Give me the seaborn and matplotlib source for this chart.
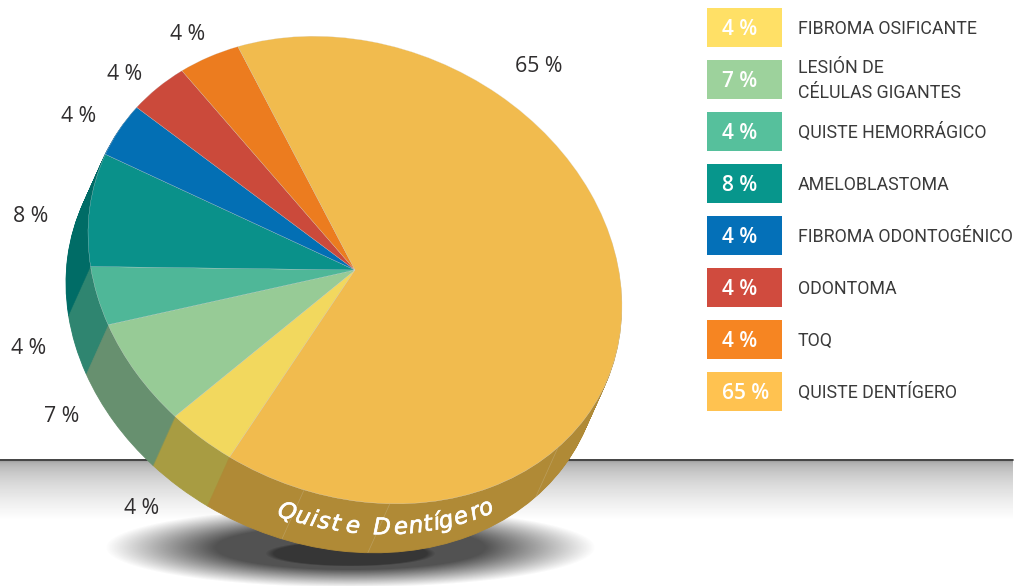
import numpy as np
import matplotlib
matplotlib.use('Agg')
import matplotlib.pyplot as plt
import matplotlib.patheffects as pe
from matplotlib.transforms import Affine2D
import seaborn as sns

# Data
labels = ['FIBROMA OSIFICANTE', 'LESIÓN DE\nCÉLULAS GIGANTES', 'QUISTE HEMORRÁGICO', 'AMELOBLASTOMA',
          'FIBROMA ODONTOGÉNICO', 'ODONTOMA', 'TOQ', 'QUISTE DENTÍGERO']
values = [4, 7, 4, 8, 4, 4, 4, 65]
top_colors = ['#F2D85E', '#97CB96', '#4FB798', '#0A918A', '#036FB4', '#CB4A3B', '#EC7C1F', '#F1BB4E']
wall_colors = ['#A89C42', '#67906F', '#2F8570', '#006C66', '#0A5A90', '#A03A30', '#B86A20', '#B08A36']
legend_colors = ['#FFE066', '#9DD29C', '#56C09C', '#07968C', '#0470B8', '#D04B3E', '#F68522', '#FFC250']
pct_pos = [(142, 509), (62, 417), (29, 349), (31, 216), (79, 116), (125, 74), (188, 34), (539, 67)]
curved_text = 'QuisteDentígero'
curved_x = [287, 303, 314, 324, 336, 353, 382, 401, 416, 428, 437, 446, 461, 475, 486]
seam_angles = [259, 277.5, 319.5]

sns.set_theme(style='white')
plt.rcParams['font.family'] = ['Open Sans', 'DejaVu Sans']

fig = plt.figure(figsize=(10.28, 5.86), dpi=100)
ax = fig.add_axes([0, 0, 1, 1])

# Floor gradient and shadow
fade = np.clip((np.linspace(0, 1, 60)) ** 0.55, 0, 1)
floor = (0.64 + 0.36 * fade).reshape(-1, 1)
ax.imshow(floor, cmap='gray', vmin=0, vmax=1, extent=(0, 1013, 521, 461), aspect='auto', zorder=0)
ax.plot([0, 1013], [460, 460], color='#222222', lw=1.2, zorder=1)

xx, yy = np.meshgrid(np.arange(100, 600), np.arange(515, 586))
r = np.sqrt(((xx - 350) / 245) ** 2 + ((yy - 547) / 40) ** 2)
shadow = np.zeros(xx.shape + (4,))
shadow[..., :3] = 0.2
shadow[..., 3] = np.clip((1 - r) / 0.45, 0, 1) * 0.85
ax.imshow(shadow, extent=(100, 600, 586, 515), aspect='auto', zorder=1, interpolation='bilinear')
r2 = np.sqrt(((xx - 350) / 85) ** 2 + ((yy - 553) / 13) ** 2)
core = np.zeros(xx.shape + (4,))
core[..., :3] = 0.2
core[..., 3] = np.clip((1 - r2) / 0.1, 0, 1) * 0.9
ax.imshow(core, extent=(100, 600, 586, 515), aspect='auto', zorder=1, interpolation='bilinear')

# Pie: unit circle skewed to the tilted ellipse, wall is the same pie stacked downwards
cx, cy = 355, 270
sx, skew, sy = 267, 36, 231
off_x, off_y = -22, 49
n_steps = 49
for k in range(n_steps, 0, -1):
    wedges, _ = ax.pie(values, colors=wall_colors, startangle=242, counterclock=False,
                       wedgeprops={'linewidth': 0.6})
    tr = Affine2D.from_values(sx, skew, 0, -sy, cx + off_x * k / n_steps, cy + off_y * k / n_steps)
    for w in wedges:
        w.set_edgecolor(w.get_facecolor())
        w.set_transform(tr + ax.transData)
        w.set_zorder(2)

wedges, _ = ax.pie(values, colors=top_colors, startangle=242, counterclock=False,
                   wedgeprops={'linewidth': 0.2, 'edgecolor': '#dddddd'})
tr = Affine2D.from_values(sx, skew, 0, -sy, cx, cy)
for w in wedges:
    w.set_transform(tr + ax.transData)
    w.set_zorder(3)

# Faint seams on the gold wall
for a in seam_angles:
    c, s = np.cos(np.radians(a)), np.sin(np.radians(a))
    x0, y0 = cx + sx * c, cy + skew * c - sy * s
    ax.plot([x0, x0 + off_x], [y0, y0 + off_y], color='#C8B68A', lw=0.5, alpha=0.45, zorder=3)

# Percent labels around the pie
for v, (px, py) in zip(values, pct_pos):
    ax.text(px, py, f'{v} %', fontsize=15.3, color='#2f2d2e', ha='center', va='center', zorder=5)

# Curved text on the wall
for ch, px in zip(curved_text, curved_x):
    c = (px - 343) / sx
    s = -np.sqrt(1 - c ** 2)
    py = 294 + skew * c - sy * s
    # tangent of the ellipse at this point
    dx, dy = -sx * s, -skew * s - sy * c
    rot = np.degrees(np.arctan2(-dy, dx)) * 1.05
    ax.text(px, py, ch, fontsize=16.5, style='italic', color='white', family='DejaVu Sans',
            ha='center', va='center', rotation=rot, rotation_mode='anchor', zorder=5,
            path_effects=[pe.withStroke(linewidth=0.5, foreground='white')])

ax.set_aspect('auto')
ax.set_xlim(0, 1028)
ax.set_ylim(586, 0)
ax.axis('off')

# Legend swatches as a bar chart
lax = fig.add_axes([707 / 1028, 1 - 417 / 586, 321 / 1028, 416 / 586])
sns.barplot(y=labels, x=[1] * len(labels), hue=labels, palette=legend_colors, legend=False,
            width=0.75, saturation=1, linewidth=0, ax=lax)
lax.set_xlim(0, 321 / 75)
lax.axis('off')
lax.patch.set_alpha(0)
for i, (lab, v) in enumerate(zip(labels, values)):
    lax.text(0.2, i + 0.05, f'{v} %', color='white', fontsize=15, fontweight='semibold', ha='left', va='center')
    lax.text(91 / 75, i + 0.03, lab, color='#3a3a3a', fontsize=12.8, family='Roboto', ha='left', va='center',
             linespacing=1.55)

fig.savefig('out.png', dpi=100)
